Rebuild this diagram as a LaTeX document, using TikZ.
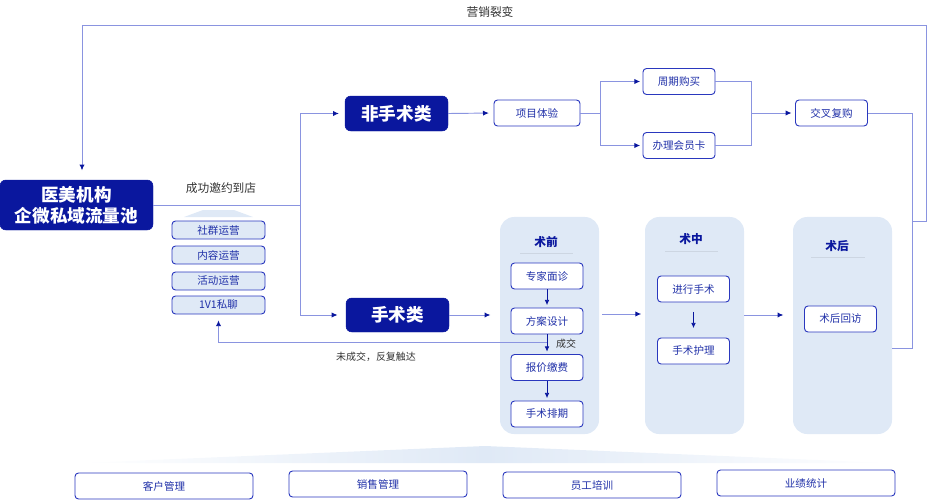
\documentclass[tikz,border=0pt]{standalone}
\usepackage{fontspec}
\setmainfont{Noto Sans CJK SC}
\usetikzlibrary{arrows.meta,calc}
\definecolor{navy}{HTML}{0A179E}
\definecolor{edge}{HTML}{2A38BE}
\definecolor{wirec}{HTML}{8A94E0}
\definecolor{pale}{HTML}{DFE9F6}
\definecolor{ink}{HTML}{2030A8}
\definecolor{rule}{HTML}{CDD6E2}
\definecolor{txt}{HTML}{333333}

\begin{document}
\begin{tikzpicture}[x=0.03cm,y=-0.03cm,
  headbox/.style={fill=navy,draw=navy,rounded corners=5pt,text=white,
    font=\bfseries\fontsize{15}{18}\selectfont,align=center,inner sep=0pt},
  stepbox/.style={draw=edge,fill=white,rounded corners=3pt,line width=0.8pt,
    text=ink,font=\fontsize{9}{11}\selectfont,minimum width=2.16cm,
    minimum height=0.78cm,inner sep=0pt},
  tagbox/.style={stepbox,fill=pale,minimum width=2.79cm,minimum height=0.54cm},
  basebox/.style={stepbox,minimum width=5.34cm},
  panel/.style={fill=pale,rounded corners=12pt,minimum width=2.97cm,
    minimum height=6.51cm,inner sep=0pt},
  phase/.style={text=navy,font=\bfseries\fontsize{10}{12}\selectfont},
  note/.style={text=txt,font=\fontsize{10}{12}\selectfont},
  wire/.style={draw=wirec,line width=0.8pt},
  flow/.style={wire,-{Latex[length=5pt,width=4.5pt,color=navy]}},
  down/.style={draw=navy,line width=0.7pt,-{Latex[length=4.5pt,width=4pt]}}]
  \useasboundingbox (0,0) rectangle (928,500);

  % main pool and the two branches
  \node[headbox,minimum width=4.59cm,minimum height=1.5cm] (pool) at (76.5,205)
    {医美机构\\企微私域流量池};
  \node[headbox,minimum width=3.09cm,minimum height=1.05cm] (nonsurg) at (396.5,113.5) {非手术类};
  \node[headbox,minimum width=3.09cm,minimum height=1.02cm] (surg) at (397.5,315) {手术类};

  % operation tags
  \fill[pale] (184,217) -- (203,210) -- (234,210) -- (253,217) -- cycle;
  \node[tagbox] (group) at (218.5,230) {社群运营};
  \node[tagbox] (content) at (218.5,255) {内容运营};
  \node[tagbox] (event) at (218.5,281) {活动运营};
  \node[tagbox] (chat) at (218.5,305) {1V1私聊};

  % non surgical path
  \node[stepbox,minimum width=2.58cm] (trial) at (537,113) {项目体验};
  \node[stepbox] (cycle) at (679,81.5) {周期购买};
  \node[stepbox] (member) at (679,145.5) {办理会员卡};
  \node[stepbox] (cross) at (831.5,113) {交叉复购};

  % surgical phases
  \node[panel] (pre) at (549.5,325.5) {};
  \node[panel] (mid) at (694.5,325.5) {};
  \node[panel] (post) at (842.5,325.5) {};
  \node[phase] (preT) at (546,242) {术前};
  \node[phase] (midT) at (691,239) {术中};
  \node[phase] (postT) at (837,246) {术后};
  \draw[rule] (520,253) -- (573,253);
  \draw[rule] (665,251) -- (718,251);
  \draw[rule] (811,257) -- (865,257);

  \node[stepbox] (expert) at (547,276) {专家面诊};
  \node[stepbox] (plan) at (547,321) {方案设计};
  \node[stepbox] (quote) at (547,367.5) {报价缴费};
  \node[stepbox] (sched) at (547,414) {手术排期};
  \node[stepbox] (oper) at (693.5,289) {进行手术};
  \node[stepbox] (care) at (693.5,351) {手术护理};
  \node[stepbox] (visit) at (840.5,319) {术后回访};

  % bottom support
  \shade[left color=white,right color=white,middle color=pale]
    (80,463) -- (485,446) -- (890,463) -- cycle;
  \node[basebox] (cust) at (164,486) {客户管理};
  \node[basebox] (sales) at (378,484) {销售管理};
  \node[basebox] (staff) at (592,485) {员工培训};
  \node[basebox] (perf) at (806,483) {业绩统计};

  % connectors
  \coordinate (split) at (300,205);
  \draw[wire] (pool.east |- split) -- (split);
  \draw[flow,shorten >=5pt] (split) |- (nonsurg.west);
  \draw[flow,shorten >=7pt] (split) |- (surg.west);
  \node[note] (invite) at (221,188) {成功邀约到店};

  \draw[flow,shorten >=4pt] (nonsurg.east) -- (trial.west);
  \coordinate (fork) at (600,113);
  \coordinate (join) at (751,113);
  \draw[wire] (trial.east) -- (fork);
  \draw[flow,shorten >=2pt] (fork) |- (cycle.west);
  \draw[flow,shorten >=2pt] (fork) |- (member.west);
  \draw[wire] (cycle.east) -| (join);
  \draw[wire] (member.east) -| (join);
  \draw[flow,shorten >=3pt] (join) -- (cross.west);

  \draw[flow,shorten >=8pt] (surg.east) -- (surg.east -| pre.west);
  \draw[flow,shorten >=3pt] ($(pre.east)+(3,-11.5)$) -- ($(mid.west)+(0,-11.5)$);
  \draw[flow,shorten >=8pt] ($(mid.east)+(0,-10.5)$) -- ($(post.west)+(0,-10.5)$);

  \draw[down,shorten >=2pt] (expert.south) -- (plan.north);
  \draw[down,shorten >=2pt] (plan.south) -- (quote.north);
  \draw[down,shorten >=2pt] (quote.south) -- (sched.north);
  \draw[down,shorten <=8pt,shorten >=8pt] (oper.south) -- (care.north);
  \node[text=txt,font=\fontsize{8.5}{10}\selectfont] (deallbl) at (566,344) {成交};

  \coordinate (deal) at (547,342);
  \draw[flow,shorten >=5pt] (deal) -| (chat.south);
  \node[text=txt,font=\fontsize{8.5}{10}\selectfont] (retry) at (376,357) {未成交，反复触达};

  % repurchase loop back to the pool
  \coordinate (rjoin) at (912,221);
  \coordinate (topR) at (926,25);
  \coordinate (topL) at (82,25);
  \draw[wire] (cross.east) -| (rjoin) |- ($(post.east)+(0,22.5)$);
  \draw[flow,shorten >=8pt] (rjoin) -| (topR) -- (topL) -- (topL |- pool.north);
  \node[note] (viral) at (490,12) {营销裂变};
\end{tikzpicture}
\end{document}
